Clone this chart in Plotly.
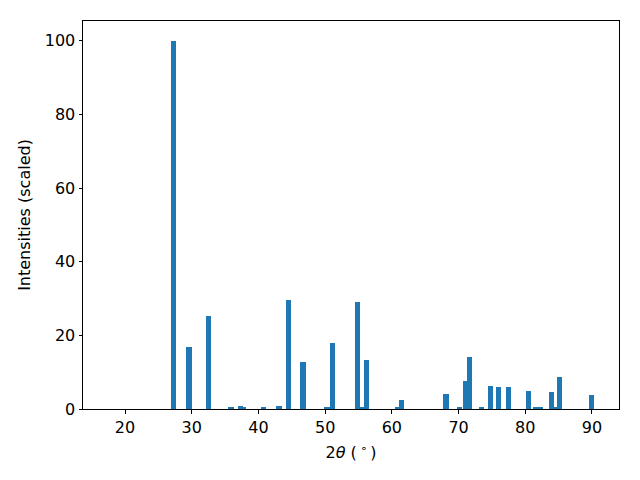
import plotly.graph_objects as go

two_theta = [27.3, 29.6, 32.5, 35.9, 37.3, 37.8, 40.8, 43.1, 44.5, 46.7, 50.3, 51.1,
             54.85, 55.4, 56.2, 60.9, 61.45, 68.1, 70.1, 71.1, 71.6, 73.4, 74.8, 76.0,
             77.5, 80.5, 81.6, 82.3, 83.9, 84.5, 85.1, 89.9]
intensity = [100, 16.8, 25.2, 0.3, 0.8, 0.5, 0.3, 0.8, 29.6, 12.8, 0.3, 17.9,
             29.0, 0.3, 13.3, 0.3, 2.4, 4.1, 0.3, 7.6, 14.1, 0.3, 6.2, 5.9,
             5.9, 4.9, 0.3, 0.3, 4.6, 0.3, 8.6, 3.8]

fig = go.Figure(go.Bar(x=two_theta, y=intensity, width=0.8, marker_color="#1f77b4",
                       marker_line_width=0))

axis_common = dict(showline=True, linecolor="black", linewidth=1, mirror=True,
                   ticks="outside", ticklen=3.5, tickwidth=1, tickcolor="black",
                   showgrid=False, zeroline=False, automargin=False,
                   tickfont=dict(family="DejaVu Sans", size=16, color="black"))

fig.update_layout(
    width=640, height=480,
    margin=dict(l=83, r=21, t=21, b=71, autoexpand=False),
    plot_bgcolor="white", paper_bgcolor="white",
    showlegend=False, bargap=0,
    font=dict(family="DejaVu Sans", size=16, color="black"),
    xaxis=dict(range=[13.7, 94.05], tickvals=[20, 30, 40, 50, 60, 70, 80, 90],
               title=dict(text="2<i>θ</i> (\u2009<sup>∘</sup>\u2009)", standoff=11,
                          font=dict(family="DejaVu Sans", size=16)),
               **axis_common),
    yaxis=dict(range=[0, 105.4], tickvals=[0, 20, 40, 60, 80, 100],
               title=dict(text="Intensities (scaled)", standoff=10,
                          font=dict(family="DejaVu Sans", size=16)),
               **axis_common),
)

fig.write_html("out.html", config={"displayModeBar": False},
               post_script="document.body.style.margin='0';")
